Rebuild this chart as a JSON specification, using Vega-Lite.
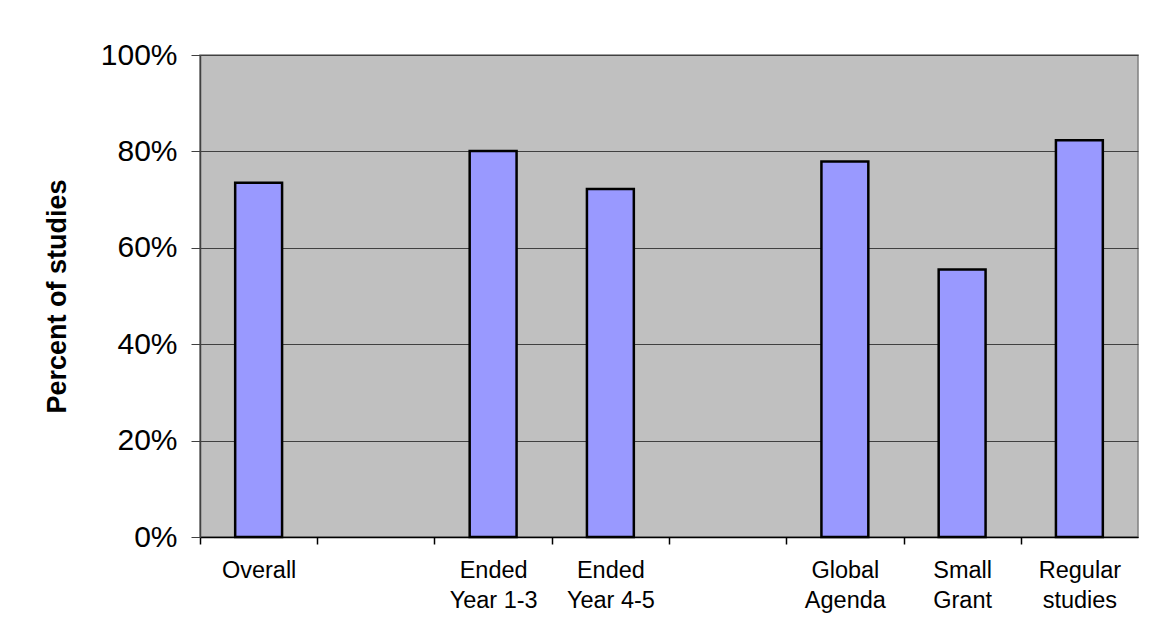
{
  "$schema": "https://vega.github.io/schema/vega-lite/v6.json",
  "autosize": "none",
  "width": 938,
  "height": 482,
  "padding": {"left": 200, "top": 55, "right": 13, "bottom": 106},
  "background": "white",
  "config": {
    "font": "Liberation Sans",
    "view": {"fill": "#C0C0C0", "stroke": "#808080", "strokeWidth": 1.5}
  },
  "data": {
    "values": [
      {"category": "Overall", "value": 0.735},
      {"category": "Ended|Year 1-3", "value": 0.801},
      {"category": "Ended|Year 4-5", "value": 0.722},
      {"category": "Global|Agenda", "value": 0.779},
      {"category": "Small|Grant", "value": 0.555},
      {"category": "Regular|studies", "value": 0.823}
    ]
  },
  "mark": {"type": "bar", "fill": "#9999FF", "stroke": "#000000", "strokeWidth": 2.5},
  "encoding": {
    "x": {
      "field": "category",
      "type": "nominal",
      "sort": null,
      "scale": {
        "domain": ["Overall", "gap1", "Ended|Year 1-3", "Ended|Year 4-5", "gap2", "Global|Agenda", "Small|Grant", "Regular|studies"],
        "paddingInner": 0.6,
        "paddingOuter": 0.3
      },
      "axis": {
        "title": null,
        "labelAngle": 0,
        "labelExpr": "isString(datum.value) && indexof(datum.value,'gap') != 0 ? split(datum.value,'|') : ''",
        "labelFontSize": 23.5,
        "labelLineHeight": 30,
        "labelColor": "#000000",
        "labelPadding": 14,
        "labelOffset": 58.625,
        "tickOffset": -58.625,
        "tickSize": 7,
        "tickWidth": 1.5,
        "tickColor": "#000000",
        "domainColor": "#000000",
        "domainWidth": 1.5,
        "grid": false
      }
    },
    "y": {
      "field": "value",
      "type": "quantitative",
      "scale": {"domain": [0, 1]},
      "axis": {
        "title": "Percent of studies",
        "titleFontSize": 27,
        "titleFontWeight": "bold",
        "titleColor": "#000000",
        "titlePadding": 29,
        "values": [0, 0.2, 0.4, 0.6, 0.8, 1],
        "format": ".0%",
        "labelFontSize": 30,
        "labelColor": "#000000",
        "labelPadding": 14,
        "tickSize": 9,
        "tickColor": "#404040",
        "domainColor": "#404040",
        "domainWidth": 1.5,
        "grid": true,
        "gridColor": "#404040",
        "gridWidth": 1
      }
    }
  }
}
